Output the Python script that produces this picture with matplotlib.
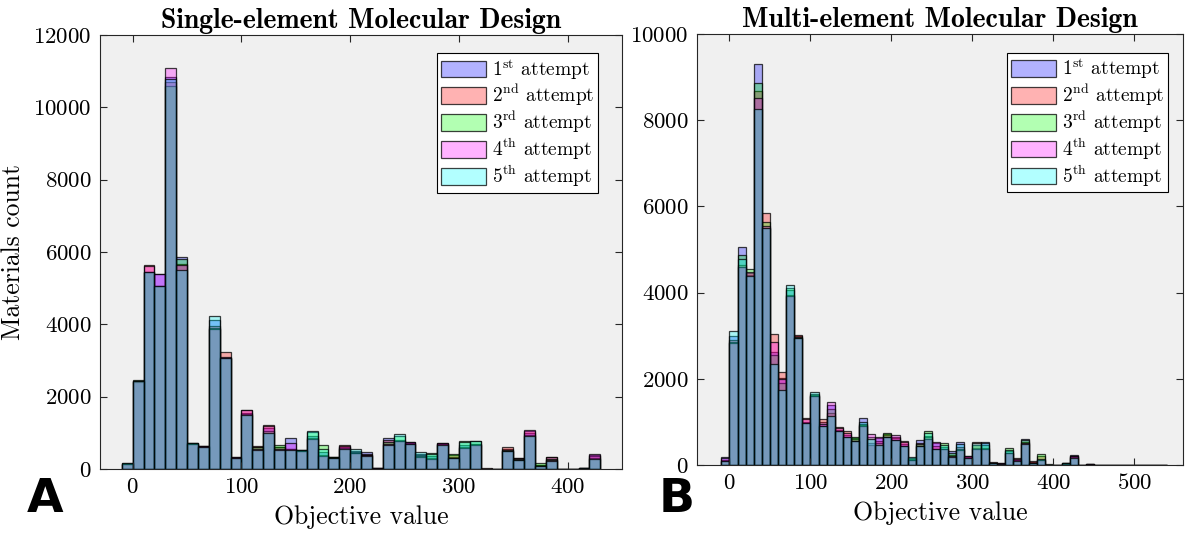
import numpy as np
import matplotlib
matplotlib.use("Agg")
import matplotlib.pyplot as plt

# ---------------- data ----------------
bin_width = 10
edges_a_start = -10
edges_b_start = -10

single_s1 = [150,2400,5450,5380,10830,5870,720,630,4120,3080,310,1560,600,1120,620,860,520,900,480,330,600,500,480,20,857,800,740,420,350,700,330,650,700,10,10,560,300,1000,120,320,5,10,37,400]
single_s2 = [140,2430,5630,5050,10700,5660,700,640,3950,3244,330,1620,630,1210,600,560,510,850,400,320,660,470,420,25,800,780,730,380,300,719,380,600,680,15,8,618,313,1060,100,332,3,8,30,350]
single_s3 = [160,2450,5440,5060,10600,5800,710,620,3900,3070,300,1520,620,1040,650,540,530,1020,650,325,580,450,390,15,760,900,690,350,442,690,415,765,770,8,12,520,280,950,166,280,6,12,35,300]
single_s4 = [145,2420,5620,5400,11090,5640,690,625,3860,3090,320,1630,560,1190,560,720,500,830,370,315,640,445,380,30,700,770,747,340,280,710,310,585,660,12,10,500,260,1090,80,240,4,9,32,415]
single_s5 = [155,2440,5460,5070,10780,5500,715,615,4230,3075,305,1500,520,1000,520,520,515,1050,560,310,560,562,370,10,660,960,680,470,420,660,305,750,784,10,9,485,245,925,75,215,5,10,28,290]

multi_s1 = [193,3000,5050,4400,9310,5510,2620,2030,4050,2990,1000,1620,1000,1400,820,700,620,1081,500,620,690,620,480,130,579,680,500,420,332,533,180,400,533,50,30,320,120,602,60,120,10,5,46,232,5,20,3,2,4,3,2,3,2,2,2]
multi_s2 = [120,2900,4650,4450,8670,5836,3034,2169,3950,3011,1081,1600,1065,1200,872,780,600,920,475,560,720,660,564,115,520,640,450,380,230,420,216,533,400,62,39,290,162,530,85,200,8,6,40,200,4,15,2,3,2,4,3,2,3,2,1]
multi_s3 = [100,2850,4870,4555,8870,5630,2550,1900,4100,2960,980,1650,900,1300,790,660,648,950,650,500,741,590,450,160,480,787,380,502,280,380,170,470,460,45,25,386,110,570,50,247,12,4,35,180,6,18,4,2,3,2,3,2,2,3,2]
multi_s4 = [170,2830,4590,4470,8520,5545,2850,2000,3910,2945,1060,1590,950,1467,850,740,560,900,726,648,660,687,540,108,450,605,533,360,200,345,200,375,375,55,35,280,140,510,45,110,6,5,30,220,3,12,3,3,2,2,2,3,2,2,1]
multi_s5 = [85,3104,4780,4395,8270,5500,2340,1740,4184,2950,975,1683,896,1130,780,650,550,1000,600,475,650,575,435,185,435,740,360,460,190,480,165,500,500,40,20,350,100,495,40,150,9,3,38,165,5,10,2,2,3,2,2,2,3,2,1]

labels = [r"1$^{\rm st}$ attempt", r"2$^{\rm nd}$ attempt", r"3$^{\rm rd}$ attempt",
          r"4$^{\rm th}$ attempt", r"5$^{\rm th}$ attempt"]
colors = [(0, 0, 1), (1, 0, 0), (0, 1, 0), (1, 0, 1), (0, 1, 1)]

titles = ["Single-element Molecular Design", "Multi-element Molecular Design"]
xticks_a = [0, 100, 200, 300, 400]
xticks_b = [0, 100, 200, 300, 400, 500]
yticks_a = [0, 2000, 4000, 6000, 8000, 10000, 12000]
yticks_b = [0, 2000, 4000, 6000, 8000, 10000]

# ---------------- style ----------------
plt.rcParams['font.family'] = ['cmr10']
plt.rcParams['mathtext.fontset'] = 'cm'
plt.rcParams['axes.unicode_minus'] = False
plt.rcParams['axes.formatter.use_mathtext'] = True

fig = plt.figure(figsize=(11.93, 5.33), dpi=100)
W, H = 1193, 533

def px_axes(l, t, r, b):
    return fig.add_axes([l / W, 1 - b / H, (r - l) / W, (b - t) / H])

axA = px_axes(100, 35, 622, 469)
axB = px_axes(697, 34, 1183, 465)

def draw(ax, series, start, xlim, ylim, xticks, yticks, title, leg_anchor):
    ax.set_facecolor((0.94, 0.94, 0.94))
    handles = []
    for vals, col, lab in zip(series, colors, labels):
        lefts = start + bin_width * np.arange(len(vals))
        h = ax.bar(lefts, vals, width=bin_width, align='edge',
                   facecolor=(*col, 0.3), edgecolor=(0, 0, 0, 0.75),
                   linewidth=0.9, label=lab)
        handles.append(h)
    ax.set_xlim(*xlim)
    ax.set_ylim(*ylim)
    ax.set_xticks(xticks)
    ax.set_yticks(yticks)
    ax.tick_params(direction='in', top=True, right=True, length=5,
                   width=0.8, color=(0.15, 0.15, 0.15), labelsize=16.5, pad=6)
    for sp in ax.spines.values():
        sp.set_color((0.15, 0.15, 0.15))
        sp.set_linewidth(0.8)
    ax.set_title(title, fontsize=20, family='cmb10', pad=5)
    ax.set_xlabel("Objective value", fontsize=18.5, labelpad=6)
    leg = ax.legend(handles=handles, loc='upper right', bbox_to_anchor=leg_anchor,
                    fontsize=14, frameon=True, fancybox=False, framealpha=1,
                    edgecolor='black', handlelength=2.3, handleheight=0.95,
                    handletextpad=0.3, labelspacing=0.08, borderpad=0.2,
                    borderaxespad=0.0)
    leg.get_frame().set_linewidth(0.8)

draw(axA, [single_s1, single_s2, single_s3, single_s4, single_s5], edges_a_start,
     (-30, 450), (0, 12000), xticks_a, yticks_a, titles[0], (0.954, 0.958))
draw(axB, [multi_s1, multi_s2, multi_s3, multi_s4, multi_s5], edges_b_start,
     (-40, 560), (0, 10000), xticks_b, yticks_b, titles[1], (0.969, 0.956))

axA.set_ylabel("Materials count", fontsize=18.5, labelpad=6)

fig.text(45 / W, 1 - 499 / H, "A", family='DejaVu Sans', fontweight='bold',
         fontsize=34, ha='center', va='center')
fig.text(677 / W, 1 - 500 / H, "B", family='DejaVu Sans', fontweight='bold',
         fontsize=34, ha='center', va='center')

fig.savefig("out.png", dpi=100, facecolor='white')
